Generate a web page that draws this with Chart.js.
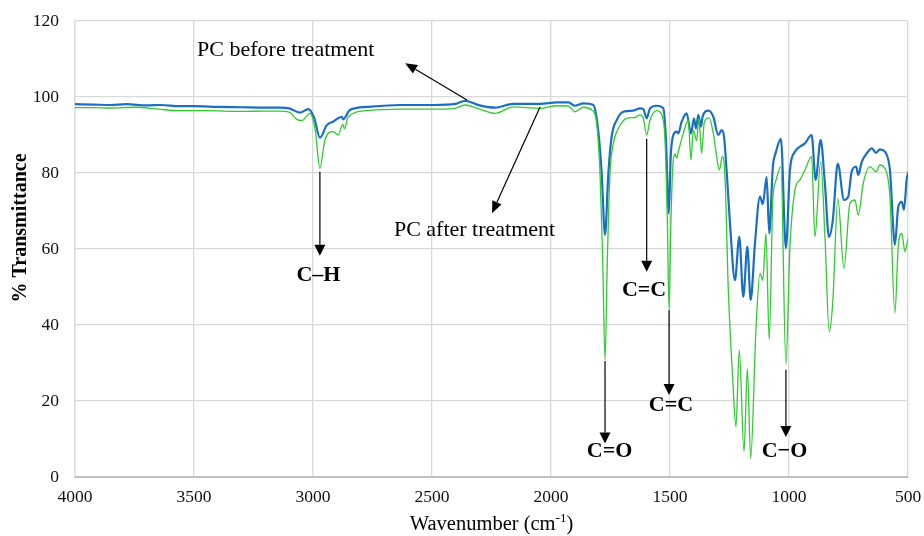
<!DOCTYPE html>
<html>
<head>
<meta charset="utf-8">
<title>FTIR spectra of PC</title>
<script src="https://cdn.jsdelivr.net/npm/chart.js@4.4.1/dist/chart.umd.min.js"></script>
<style>
  html, body { margin: 0; padding: 0; background: #ffffff; }
  #wrap { width: 924px; height: 536px; }
</style>
</head>
<body>
<div id="wrap"><canvas id="ftir" width="924" height="536"></canvas></div>
<script>
// FTIR spectrum of PC before treatment (wavenumber in cm-1, % transmittance)
const beforeWavenumber = [4000, 3920, 3850, 3782, 3700, 3640, 3560, 3500, 3400, 3300, 3200, 3139, 3100, 3055, 3020, 2995, 2971, 2942, 2916, 2879, 2873, 2845, 2774, 2634, 2494, 2400, 2361, 2300, 2235, 2158, 2046, 1976, 1927, 1899, 1864, 1822, 1811, 1798, 1787, 1773, 1759, 1745, 1724, 1696, 1654, 1626, 1612, 1598, 1584, 1556, 1528, 1517, 1505, 1497, 1486, 1472, 1465, 1451, 1430, 1412, 1399, 1391, 1381, 1370, 1363, 1339, 1318, 1297, 1283, 1273, 1262, 1248, 1227, 1209, 1192, 1175, 1161, 1143, 1122, 1110, 1094, 1083, 1068, 1055, 1034, 1013, 996, 975, 954, 933, 905, 888, 867, 849, 832, 816, 795, 769, 751, 737, 718, 709, 694, 673, 652, 634, 618, 597, 576, 555, 541, 526, 517, 505, 494];
const beforeTransmittance = [98.1, 98.0, 97.9, 98.1, 97.8, 97.9, 97.6, 97.6, 97.4, 97.3, 97.2, 97.2, 97.0, 95.9, 96.8, 94.5, 89.3, 92.6, 93.5, 94.8, 94.1, 96.6, 97.4, 97.9, 97.9, 98.2, 99.0, 97.8, 97.2, 98.2, 98.2, 98.6, 98.6, 97.7, 98.3, 97.9, 95.5, 89.0, 79.9, 63.7, 79.9, 89.6, 93.9, 96.1, 96.4, 97.0, 96.8, 94.4, 97.0, 97.7, 97.0, 88.7, 69.4, 84.3, 90.0, 90.9, 90.4, 93.5, 95.7, 90.4, 94.4, 91.7, 95.3, 92.2, 94.8, 96.4, 94.8, 90.0, 91.3, 89.6, 80.5, 66.8, 51.8, 63.2, 47.4, 60.6, 46.6, 61.5, 73.8, 71.8, 79.0, 64.1, 81.5, 85.5, 89.0, 60.2, 80.8, 85.6, 86.9, 87.8, 90.0, 78.2, 88.7, 77.0, 63.2, 67.6, 82.5, 72.9, 73.8, 80.3, 81.7, 79.5, 83.0, 85.2, 86.5, 85.3, 86.2, 85.6, 80.8, 61.1, 71.1, 72.4, 70.3, 78.6, 80.8];

// FTIR spectrum of PC after treatment
const afterWavenumber = [4000, 3920, 3850, 3750, 3650, 3560, 3450, 3300, 3200, 3139, 3100, 3068, 3047, 3013, 2990, 2971, 2950, 2915, 2894, 2875, 2868, 2852, 2774, 2634, 2466, 2400, 2361, 2300, 2235, 2158, 2046, 1976, 1927, 1899, 1864, 1829, 1808, 1794, 1783, 1773, 1763, 1752, 1738, 1717, 1682, 1647, 1626, 1612, 1598, 1584, 1556, 1535, 1521, 1511, 1504, 1497, 1489, 1479, 1472, 1465, 1444, 1423, 1412, 1402, 1388, 1379, 1367, 1356, 1336, 1318, 1304, 1293, 1280, 1269, 1255, 1237, 1223, 1209, 1189, 1175, 1161, 1139, 1122, 1110, 1097, 1083, 1068, 1055, 1034, 1013, 996, 975, 954, 933, 905, 891, 867, 849, 831, 816, 795, 769, 744, 723, 709, 688, 660, 634, 618, 597, 576, 555, 541, 526, 513, 501, 494];
const afterTransmittance = [97.2, 97.2, 97.1, 97.3, 96.8, 96.4, 96.4, 96.2, 96.3, 96.3, 96.0, 94.1, 93.8, 95.7, 91.0, 81.2, 88.7, 90.9, 90.0, 92.8, 91.6, 94.8, 96.4, 96.8, 96.8, 97.1, 97.9, 96.8, 95.7, 97.4, 97.0, 97.7, 97.6, 96.1, 97.3, 96.6, 93.1, 79.9, 58.0, 30.8, 58.0, 79.9, 87.8, 91.7, 94.4, 94.6, 95.3, 94.4, 90.0, 93.9, 96.4, 95.3, 88.7, 66.8, 43.9, 65.0, 80.8, 85.0, 83.9, 85.6, 90.5, 93.9, 83.4, 91.3, 88.5, 94.3, 85.2, 93.3, 94.5, 90.4, 84.3, 80.8, 84.3, 79.0, 49.2, 26.4, 13.2, 33.4, 6.7, 28.6, 4.9, 38.7, 53.6, 51.8, 64.1, 36.1, 72.9, 78.0, 81.7, 29.7, 60.6, 75.5, 78.2, 80.8, 84.3, 63.2, 83.0, 63.2, 38.2, 46.1, 73.3, 54.9, 72.0, 72.9, 68.9, 77.3, 81.7, 80.3, 82.1, 81.2, 73.8, 43.1, 60.6, 64.1, 59.3, 62.4, 63.2];

// Axis ranges and tick steps
const xRange = [500, 4000];
const xStep = 500;
const yRange = [0, 120];
const yStep = 20;

// Band assignments: arrow from / to (in % transmittance) at the band's wavenumber
const bandLabels = [
  { text: 'C\u2013H', wn: 2971, from: 80.3, to: 58.2, labelWn: 2977, labelT: 53.2 },
  { text: 'C=O',      wn: 1773, from: 30.5, to: 8.8,  labelWn: 1754, labelT: 6.8 },
  { text: 'C=C',      wn: 1598, from: 89.0, to: 54.0, labelWn: 1609, labelT: 49.2 },
  { text: 'C=C',      wn: 1504, from: 43.9, to: 21.6, labelWn: 1496, labelT: 18.9 },
  { text: 'C\u2212O', wn: 1013, from: 28.2, to: 10.5, labelWn: 1019, labelT: 6.8 }
];

// Series captions with their pointer arrows
const seriesCaptions = [
  { text: 'PC before treatment', wn: 3487, t: 112.4, arrowFrom: [2353, 99.2], arrowTo: [2613, 108.9] },
  { text: 'PC after treatment',  wn: 2660, t: 65.0,  arrowFrom: [2046, 97.4], arrowTo: [2248, 69.4] }
];

const toPoints = (xs, ys) => xs.map((x, i) => ({ x: x, y: ys[i] }));

const SERIF = '"Liberation Serif", "Times New Roman", "DejaVu Serif", serif';

function drawArrow(ctx, x1, y1, x2, y2, headLen, headHalf) {
  const ang = Math.atan2(y2 - y1, x2 - x1);
  const bx = x2 - headLen * Math.cos(ang);
  const by = y2 - headLen * Math.sin(ang);
  ctx.beginPath();
  ctx.moveTo(x1, y1);
  ctx.lineTo(bx, by);
  ctx.stroke();
  ctx.beginPath();
  ctx.moveTo(x2, y2);
  ctx.lineTo(bx + headHalf * Math.sin(ang), by - headHalf * Math.cos(ang));
  ctx.lineTo(bx - headHalf * Math.sin(ang), by + headHalf * Math.cos(ang));
  ctx.closePath();
  ctx.fill();
}

const annotationPlugin = {
  id: 'spectrumAnnotations',
  afterDatasetsDraw(chart) {
    const ctx = chart.ctx;
    const xs = chart.scales.x, ys = chart.scales.y;
    const ca = chart.chartArea;
    ctx.save();
    ctx.strokeStyle = '#000000';
    ctx.fillStyle = '#000000';
    ctx.lineWidth = 1.2;

    // Band arrows and bold labels
    bandLabels.forEach(b => {
      const px = xs.getPixelForValue(b.wn);
      drawArrow(ctx, px, ys.getPixelForValue(b.from), px, ys.getPixelForValue(b.to), 11, 5.5);
      ctx.font = 'bold 22px ' + SERIF;
      ctx.textAlign = 'center';
      ctx.textBaseline = 'middle';
      ctx.fillText(b.text, xs.getPixelForValue(b.labelWn), ys.getPixelForValue(b.labelT));
    });

    // Series captions
    seriesCaptions.forEach(c => {
      drawArrow(ctx,
        xs.getPixelForValue(c.arrowFrom[0]), ys.getPixelForValue(c.arrowFrom[1]),
        xs.getPixelForValue(c.arrowTo[0]), ys.getPixelForValue(c.arrowTo[1]), 12, 5);
      ctx.font = '22px ' + SERIF;
      ctx.textAlign = 'left';
      ctx.textBaseline = 'middle';
      ctx.fillText(c.text, xs.getPixelForValue(c.wn), ys.getPixelForValue(c.t));
    });

    // Y axis title
    ctx.save();
    ctx.translate(21, 228);
    ctx.rotate(-Math.PI / 2);
    ctx.font = 'bold 20px ' + SERIF;
    ctx.textAlign = 'center';
    ctx.textBaseline = 'middle';
    ctx.fillStyle = '#000000';
    ctx.fillText('% Transmittance', 0, 0);
    ctx.restore();

    // X axis title with superscript unit
    const mainTxt = 'Wavenumber (cm';
    const supTxt = '-1';
    const endTxt = ')';
    ctx.font = '20.5px ' + SERIF;
    const w1 = ctx.measureText(mainTxt).width;
    const w3 = ctx.measureText(endTxt).width;
    ctx.font = '13px ' + SERIF;
    const w2 = ctx.measureText(supTxt).width;
    const total = w1 + w2 + w3;
    const x0 = (ca.left + ca.right) / 2 - total / 2;
    const yBase = 530;
    ctx.textAlign = 'left';
    ctx.textBaseline = 'alphabetic';
    ctx.font = '20.5px ' + SERIF;
    ctx.fillText(mainTxt, x0, yBase);
    ctx.font = '13px ' + SERIF;
    ctx.fillText(supTxt, x0 + w1, yBase - 8);
    ctx.font = '20.5px ' + SERIF;
    ctx.fillText(endTxt, x0 + w1 + w2, yBase);

    ctx.restore();
  }
};

// Fixed axis sizes; label overflow is absorbed by the layout padding
function fixScale(size, key) {
  return s => {
    s[key] = size;
    s.paddingLeft = 0; s.paddingRight = 0; s.paddingTop = 0; s.paddingBottom = 0;
  };
}

new Chart(document.getElementById('ftir'), {
  type: 'line',
  data: {
    datasets: [
      {
        label: 'PC before treatment',
        data: toPoints(beforeWavenumber, beforeTransmittance),
        borderColor: '#1A6FC4',
        borderWidth: 2.2,
        pointRadius: 0,
        fill: false,
        cubicInterpolationMode: 'monotone',
        order: 1
      },
      {
        label: 'PC after treatment',
        data: toPoints(afterWavenumber, afterTransmittance),
        borderColor: '#2ECC2E',
        borderWidth: 1.3,
        pointRadius: 0,
        fill: false,
        cubicInterpolationMode: 'monotone',
        order: 0
      }
    ]
  },
  options: {
    responsive: false,
    animation: false,
    layout: { padding: { top: 21, right: 16, left: 0, bottom: 0 } },
    plugins: {
      legend: { display: false },
      tooltip: { enabled: false },
      title: { display: false }
    },
    scales: {
      x: {
        type: 'linear',
        reverse: true,
        min: xRange[0],
        max: xRange[1],
        afterFit: fixScale(59, 'height'),
        ticks: {
          stepSize: xStep,
          padding: 10,
          maxRotation: 0,
          color: '#111111',
          font: { family: SERIF, size: 17.5 },
          callback: v => String(v)
        },
        grid: { color: '#d9d9d9', lineWidth: 1.3, drawTicks: false },
        border: { color: '#bfbfbf', width: 2 }
      },
      y: {
        min: yRange[0],
        max: yRange[1],
        afterFit: fixScale(75, 'width'),
        ticks: {
          stepSize: yStep,
          padding: 16,
          color: '#111111',
          font: { family: SERIF, size: 17.5 },
          callback: v => String(v)
        },
        grid: { color: '#d9d9d9', lineWidth: 1.3, drawTicks: false },
        border: { color: '#d9d9d9', width: 1.3 }
      }
    }
  },
  plugins: [annotationPlugin]
});
</script>
</body>
</html>
